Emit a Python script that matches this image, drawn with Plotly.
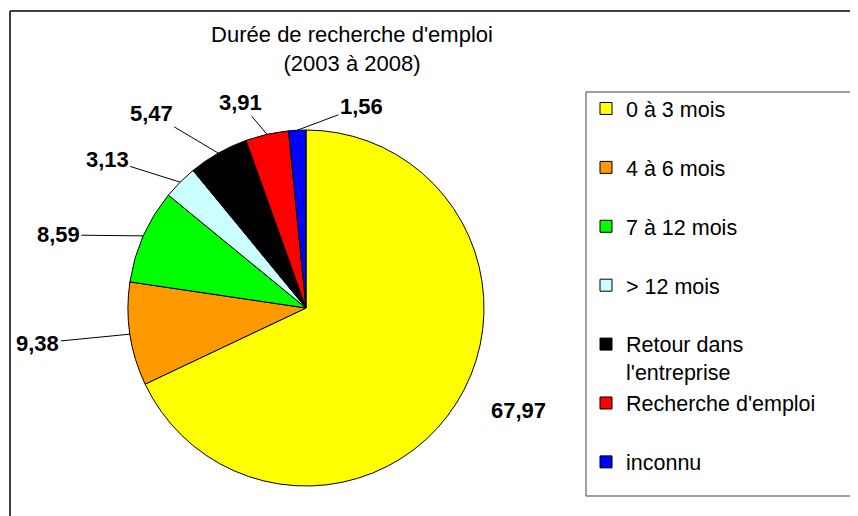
import math
import plotly.graph_objects as go

# --- données ---
categories = ["0 à 3 mois", "4 à 6 mois", "7 à 12 mois", "> 12 mois",
              "Retour dans<br>l'entreprise", "Recherche d'emploi", "inconnu"]
pourcentages = [67.97, 9.38, 8.59, 3.13, 5.47, 3.91, 1.56]
couleurs = ["#FFFF00", "#FF9900", "#00FF00", "#CCFFFF", "#000000", "#FF0000", "#0000FF"]

W, H = 858, 516
OFF = 8  # la page html décale la figure de 8 px (marge du body)
FONT = "Liberation Sans, Arial, sans-serif"

# géométrie du camembert (pixels, à l'écran)
CX, CY, R = 306 - OFF, 308 - OFF, 178
# décalage des étiquettes par rapport au bord de la part (pixels, style Excel)
decalages = [(62, 7), (-92, 9), (-85, -1), (-73, -23), (-67, -40), (-27, -32), (64, -24)]

# une ligne vide sous chaque libellé pour espacer la légende comme dans l'original
legende = [c if "<br>" in c else c + "<br>&nbsp;" for c in categories]

fig = go.Figure(go.Pie(
    labels=legende,
    values=pourcentages,
    sort=False,
    direction="clockwise",
    rotation=0,
    marker=dict(colors=couleurs, line=dict(color="#000000", width=1)),
    textinfo="none",
    domain=dict(x=[(CX - R) / W, (CX + R) / W],
                y=[(H - CY - R) / H, (H - CY + R) / H]),
    hovertemplate="%{label}: %{value}<extra></extra>",
))

# étiquettes de valeurs avec traits de rappel, au milieu angulaire de chaque part
total = sum(pourcentages)
cumul = 0
annotations = []
for v, (dx, dy) in zip(pourcentages, decalages):
    theta = 2 * math.pi * (cumul + v / 2) / total
    cumul += v
    px = CX + R * math.sin(theta)
    py = CY - R * math.cos(theta)
    grande = v > 50
    annotations.append(dict(
        x=px / W, y=1 - py / H, xref="paper", yref="paper",
        xanchor="center", yanchor="middle",
        text="<b>" + f"{v:.2f}".replace(".", ",") + "</b>",
        showarrow=not grande, arrowhead=0, arrowwidth=1, arrowcolor="#000000",
        ax=dx, ay=dy, standoff=0,
        xshift=dx if grande else 0, yshift=-dy if grande else 0,
        font=dict(family=FONT, size=22, color="#000000"),
    ))


def trait(x0, y0, x1, y1, largeur):
    # segment en pixels écran -> coordonnées papier
    return dict(type="line", xref="paper", yref="paper",
                x0=(x0 - OFF) / W, y0=1 - (y0 - OFF) / H,
                x1=(x1 - OFF) / W, y1=1 - (y1 - OFF) / H,
                line=dict(color="#404040", width=largeur))


cadres = [
    # cadre général (haut et gauche, le reste sort de l'image)
    trait(10, 11, 900, 11, 2), trait(10, 11, 10, 560, 2),
    # cadre de la légende (ouvert à droite)
    trait(586, 92, 900, 92, 1), trait(586, 92, 586, 496, 1), trait(586, 496, 900, 496, 1),
]

fig.update_layout(
    width=W, height=H,
    margin=dict(l=0, r=0, t=0, b=0, autoexpand=False),
    paper_bgcolor="white",
    font=dict(family=FONT, size=22, color="#000000"),
    title=dict(text="Durée de recherche d'emploi<br>(2003 à 2008)",
               x=(352 - OFF) / W, xanchor="center", y=1 - 34 / H, yanchor="top",
               font=dict(family=FONT, size=22, color="#000000")),
    legend=dict(x=(586 - OFF) / W, xanchor="left", y=1 - (88 - OFF) / H, yanchor="top",
                borderwidth=0, bgcolor="rgba(0,0,0,0)", valign="top",
                font=dict(family=FONT, size=21.5, color="#000000"),
                traceorder="normal"),
    annotations=annotations,
    shapes=cadres,
)

fig.write_html("out.html")
